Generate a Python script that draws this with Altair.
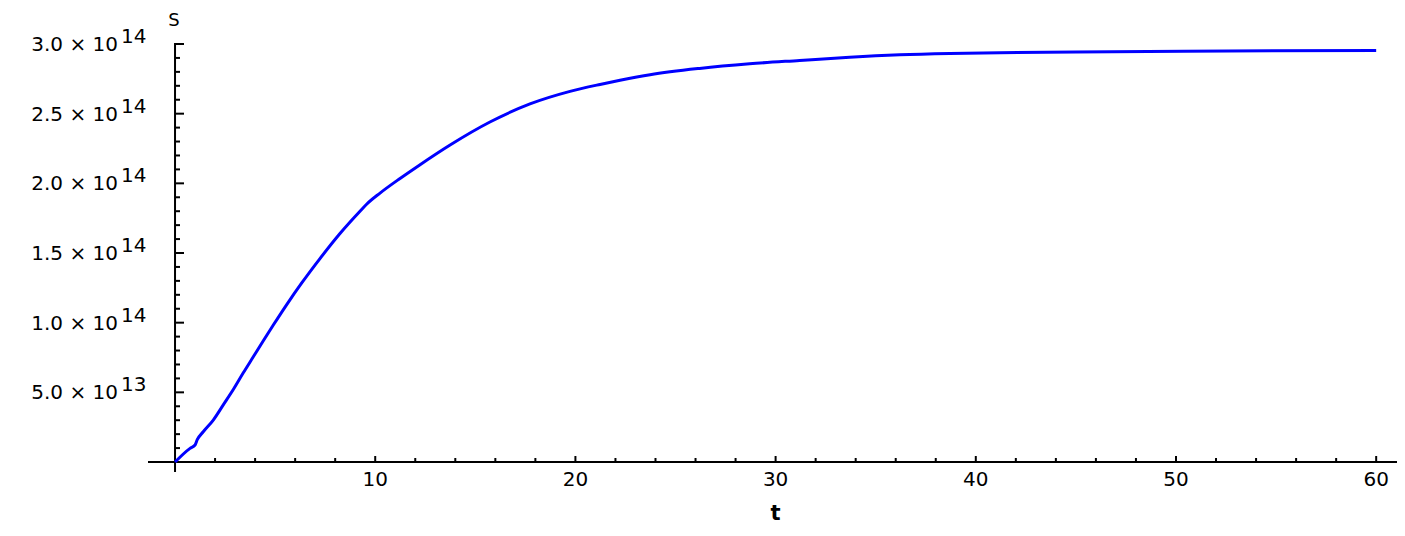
import altair as alt
import pandas as pd

# ---- data ----
T = [0, 0.75, 1.0, 1.11, 1.41, 1.91, 2.41, 2.91, 3.41, 3.91, 4.41, 4.91, 5.58,
     6.33, 7.24, 8.24, 9.24, 9.57, 10.24, 11.24, 12.15, 13.74, 15.73, 17.73,
     19.73, 21.23, 22.23, 23.73, 26.2, 28.7, 31.2, 33.7, 36.2, 38.7, 41.2, 45,
     52.6, 60]
S = [0, 0.98e13, 1.22e13, 1.6e13, 2.17e13, 3.01e13, 4.1e13, 5.2e13, 6.4e13,
     7.55e13, 8.7e13, 9.83e13, 11.3e13, 12.85e13, 14.6e13, 16.4e13, 18.0e13,
     18.5e13, 19.3e13, 20.35e13, 21.25e13, 22.75e13, 24.4e13, 25.7e13,
     26.6e13, 27.1e13, 27.4e13, 27.8e13, 28.25e13, 28.58e13, 28.82e13,
     29.05e13, 29.22e13, 29.32e13, 29.38e13, 29.43e13, 29.5e13, 29.54e13]

X_MAJOR = [10, 20, 30, 40, 50, 60]
X_LABELS = ["10", "20", "30", "40", "50", "60"]
X_MINOR = [2, 4, 6, 8, 12, 14, 16, 18, 22, 24, 26, 28, 32, 34, 36, 38,
           42, 44, 46, 48, 52, 54, 56, 58]
Y_MAJOR = [5e13, 1e14, 1.5e14, 2e14, 2.5e14, 3e14]
Y_MANT = ["5.0 × 10", "1.0 × 10", "1.5 × 10", "2.0 × 10", "2.5 × 10", "3.0 × 10"]
Y_EXP = ["13", "14", "14", "14", "14", "14"]
Y_MINOR = [1e13, 2e13, 3e13, 4e13, 6e13, 7e13, 8e13, 9e13, 1.1e14, 1.2e14,
           1.3e14, 1.4e14, 1.6e14, 1.7e14, 1.8e14, 1.9e14, 2.1e14, 2.2e14,
           2.3e14, 2.4e14, 2.6e14, 2.7e14, 2.8e14, 2.9e14]

X_DOMAIN = [-1.35, 61.04]
Y_DOMAIN = [-7.17e12, 3.0072e14]

FONT = "DejaVu Sans"

curve = pd.DataFrame({"t": T, "S": S})
one = pd.DataFrame({"a": [0]})
xs = alt.Scale(domain=X_DOMAIN, nice=False, zero=False)
ys = alt.Scale(domain=Y_DOMAIN, nice=False, zero=False)

line = alt.Chart(curve).mark_line(color="#0000ff", strokeWidth=3,
                                  interpolate="monotone").encode(
    x=alt.X("t:Q", scale=xs, axis=None),
    y=alt.Y("S:Q", scale=ys, axis=None),
)

yaxis = alt.Chart(one).mark_rule(color="black", strokeWidth=2).encode(
    x=alt.XDatum(0, axis=None),
    y=alt.YDatum(Y_DOMAIN[0], axis=None),
    y2=alt.Y2Datum(Y_DOMAIN[1]),
)
xaxis = alt.Chart(one).mark_rule(color="black", strokeWidth=2).encode(
    x=alt.XDatum(X_DOMAIN[0], axis=None),
    x2=alt.X2Datum(X_DOMAIN[1]),
    y=alt.YDatum(0, axis=None),
)

ymaj = alt.Chart(pd.DataFrame({"v": Y_MAJOR, "man": Y_MANT, "exp": Y_EXP}))
ymaj_ticks = ymaj.mark_rule(color="black", strokeWidth=2, x2Offset=9).encode(
    x=alt.XDatum(0, axis=None), x2=alt.X2Datum(0), y=alt.Y("v:Q", axis=None))
ymin_ticks = alt.Chart(pd.DataFrame({"v": Y_MINOR})).mark_rule(
    color="black", strokeWidth=2, x2Offset=5).encode(
    x=alt.XDatum(0, axis=None), x2=alt.X2Datum(0), y=alt.Y("v:Q", axis=None))

xmaj = alt.Chart(pd.DataFrame({"v": X_MAJOR, "lab": X_LABELS}))
xmaj_ticks = xmaj.mark_rule(color="black", strokeWidth=2, y2Offset=-6).encode(
    x=alt.X("v:Q", axis=None), y=alt.YDatum(0, axis=None), y2=alt.Y2Datum(0))
xmin_ticks = alt.Chart(pd.DataFrame({"v": X_MINOR})).mark_rule(
    color="black", strokeWidth=2, y2Offset=-4).encode(
    x=alt.X("v:Q", axis=None), y=alt.YDatum(0, axis=None), y2=alt.Y2Datum(0))

ymant = ymaj.mark_text(align="right", baseline="alphabetic", dx=-57, dy=7,
                       fontSize=20, font=FONT, color="black").encode(
    x=alt.XDatum(0, axis=None), y=alt.Y("v:Q", axis=None), text="man:N")
yexp = ymaj.mark_text(align="left", baseline="alphabetic", dx=-54, dy=-1,
                      fontSize=20, font=FONT, color="black").encode(
    x=alt.XDatum(0, axis=None), y=alt.Y("v:Q", axis=None), text="exp:N")

xlab = xmaj.mark_text(align="center", baseline="alphabetic", dy=24,
                      fontSize=20, font=FONT, color="black").encode(
    x=alt.X("v:Q", axis=None), y=alt.YDatum(0, axis=None), text="lab:N")

s_title = alt.Chart(pd.DataFrame({"lab": ["S"]})).mark_text(
    align="center", baseline="alphabetic", dx=-1, fontSize=18, font=FONT,
    color="black").encode(x=alt.XDatum(0, axis=None), y=alt.value(-17),
                          text="lab:N")
t_title = alt.Chart(pd.DataFrame({"lab": ["t"]})).mark_text(
    align="center", baseline="alphabetic", fontSize=21, fontWeight="bold",
    font=FONT, color="black").encode(x=alt.XDatum(30, axis=None),
                                     y=alt.value(477), text="lab:N")

chart = alt.layer(
    yaxis, xaxis, ymin_ticks, ymaj_ticks, xmin_ticks, xmaj_ticks,
    ymant, yexp, xlab, s_title, t_title, line,
).properties(
    width=1249, height=429,
    padding={"left": 140, "top": 35, "right": 0, "bottom": 56},
    autosize=alt.AutoSizeParams(type="none"),
).configure_view(strokeWidth=0)

chart.save("out.html", embed_options={"renderer": "svg", "actions": False})
